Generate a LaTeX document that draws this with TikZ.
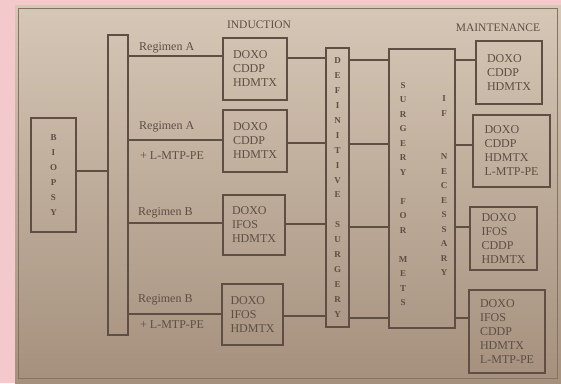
\documentclass[tikz,border=0pt]{standalone}
\usepackage{fontspec}
\setmainfont{Liberation Serif}
\definecolor{pinkbg}{HTML}{F4C9CB}
\definecolor{paperT}{HTML}{D6C7B6}
\definecolor{paperB}{HTML}{A5907D}
\definecolor{ink}{HTML}{5E4E44}
\definecolor{frameink}{HTML}{85735F}
\begin{document}
\begin{tikzpicture}[x=1pt,y=-1pt,
  box/.style={draw=ink, line width=1.25pt, inner sep=0pt, outer sep=0pt, anchor=north west, text=ink},
  boxtxt/.style={box, align=left, font=\fontsize{12}{14}\selectfont},
  vbar/.style={box, align=center, font=\bfseries\fontsize{9}{14.9}\selectfont},
  vtxt/.style={text=ink, inner sep=0pt, align=center, font=\bfseries\fontsize{9}{14.5}\selectfont},
  lbl/.style={text=ink, inner sep=0pt, anchor=west, font=\fontsize{12}{14}\selectfont},
  hdr/.style={text=ink, inner sep=0pt, font=\fontsize{11.5}{14}\selectfont},
  conn/.style={draw=ink, line width=1.25pt}]
\useasboundingbox (0,0) rectangle (561,383);
% background
\fill[pinkbg] (0,0) rectangle (561,383);
\shade[top color=paperT, bottom color=paperB] (15,5) rectangle (561,383);
\draw[frameink, line width=1pt] (18,8) rectangle (557,378);
% biopsy and bar
\node[vbar, minimum width=45pt, minimum height=114pt] (bio) at (31,118) {B\\I\\O\\P\\S\\Y};
\node[box, minimum width=20pt, minimum height=300pt] (bar) at (108,35) {};
% induction
\node[hdr] (ind) at (259,25) {INDUCTION};
\node[boxtxt, minimum width=64pt, minimum height=62pt] (I1) at (223,38) {DOXO\\CDDP\\HDMTX};
\node[boxtxt, minimum width=64pt, minimum height=62pt] (I2) at (223,110) {DOXO\\CDDP\\HDMTX};
\node[boxtxt, minimum width=62pt, minimum height=60pt] (I3) at (223,195) {DOXO\\IFOS\\HDMTX};
\node[boxtxt, minimum width=61pt, minimum height=61pt] (I4) at (222,284) {DOXO\\IFOS\\HDMTX};
% regimen labels
\node[lbl] (ra1) at (139,48) {Regimen A};
\node[lbl] (ra2) at (139,127) {Regimen A};
\node[lbl] (pa2) at (140,156) {+ L-MTP-PE};
\node[lbl] (rb3) at (138,213) {Regimen B};
\node[lbl] (rb4) at (138,300) {Regimen B};
\node[lbl] (pb4) at (140,325) {+ L-MTP-PE};
% definitive surgery
\node[vbar, minimum width=23pt, minimum height=279pt] (def) at (326,48) {D\\E\\F\\I\\N\\I\\T\\I\\V\\E\\[14.9pt]S\\U\\R\\G\\E\\R\\Y};
% surgery for mets
\node[box, minimum width=66pt, minimum height=279pt] (sfm) at (389,49) {};
\node[vtxt] (sl) at (403,194) {S\\U\\R\\G\\E\\R\\Y\\[14.5pt]F\\O\\R\\[14.5pt]M\\E\\T\\S};
\node[vtxt] (sr) at (444,186) {I\\F\\[29pt]N\\E\\C\\E\\S\\S\\A\\R\\Y};
% maintenance
\node[hdr] (mnt) at (498,28) {MAINTENANCE};
\node[boxtxt, minimum width=66pt, minimum height=63pt] (M1) at (476,41) {DOXO\\CDDP\\HDMTX};
\node[boxtxt, minimum width=77pt, minimum height=72pt] (M2) at (473,115) {DOXO\\CDDP\\HDMTX\\L-MTP-PE};
\node[boxtxt, minimum width=67pt, minimum height=63pt] (M3) at (470,207) {DOXO\\IFOS\\CDDP\\HDMTX};
\node[boxtxt, minimum width=76pt, minimum height=83pt] (M4) at (469,290) {DOXO\\IFOS\\CDDP\\HDMTX\\L-MTP-PE};
% connectors
\draw[conn] (bio.east |- 0,171) -- (bar.west |- 0,171);
\draw[conn] (bar.east |- 0,56) -- (I1.west |- 0,56);
\draw[conn] (bar.east |- 0,140) -- (I2.west |- 0,140);
\draw[conn] (bar.east |- 0,223) -- (I3.west |- 0,223);
\draw[conn] (bar.east |- 0,314) -- (I4.west |- 0,314);
\draw[conn] (I1.east |- 0,58) -- (def.west |- 0,58);
\draw[conn] (I2.east |- 0,143) -- (def.west |- 0,143);
\draw[conn] (I3.east |- 0,224) -- (def.west |- 0,224);
\draw[conn] (I4.east |- 0,316) -- (def.west |- 0,316);
\draw[conn] (def.east |- 0,60) -- (sfm.west |- 0,60);
\draw[conn] (def.east |- 0,144) -- (sfm.west |- 0,144);
\draw[conn] (def.east |- 0,227) -- (sfm.west |- 0,227);
\draw[conn] (def.east |- 0,318) -- (sfm.west |- 0,318);
\draw[conn] (sfm.east |- 0,60) -- (M1.west |- 0,60);
\draw[conn] (sfm.east |- 0,145) -- (M2.west |- 0,145);
\draw[conn] (sfm.east |- 0,227) -- (M3.west |- 0,227);
\draw[conn] (sfm.east |- 0,318) -- (M4.west |- 0,318);
\end{tikzpicture}
\end{document}
